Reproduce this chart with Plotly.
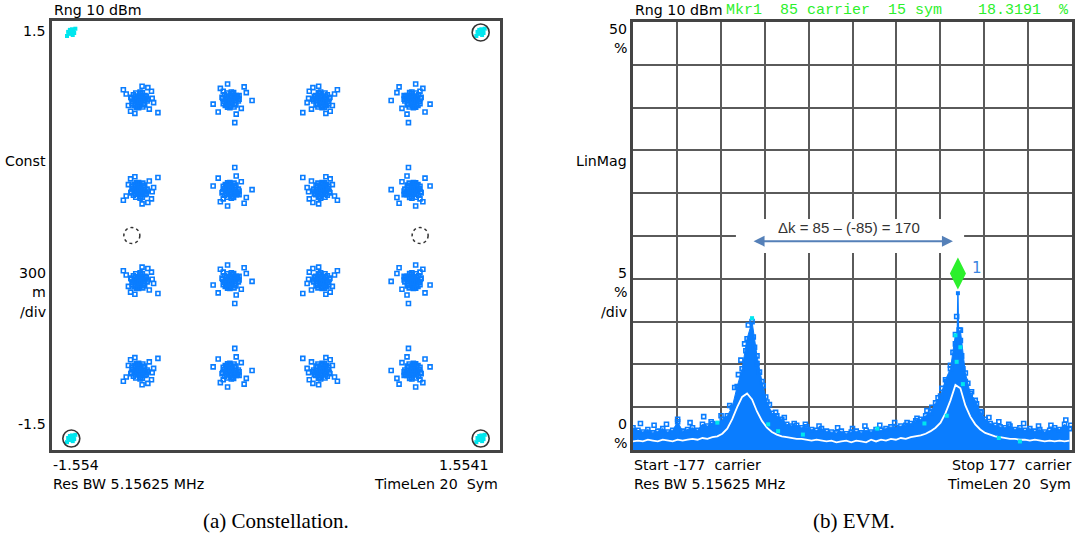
import plotly.graph_objects as go

# ---------------- data: constellation ----------------
QAM_LEVELS = [-0.949, -0.316, 0.316, 0.949]
PILOT_I = [-1.42, 1.42, -1.42, 1.42]
PILOT_Q = [1.42, 1.42, -1.42, -1.42]
REF_I = [-1.0, 1.0]
REF_Q = [0.0, 0.0]
CORE_DI = [0.000, 0.020, -0.018, 0.010, -0.012, 0.035, -0.034, 0.004, 0.002, 0.026, -0.027, 0.030,
           -0.028, 0.045, -0.045, 0.012, -0.010, 0.040, -0.040, 0.038, -0.036, 0.055, -0.054, 0.006,
           -0.004, 0.050, -0.050, 0.022, -0.024, 0.025, -0.020, 0.015, -0.008, 0.000, 0.060, -0.058]
CORE_DQ = [0.000, 0.010, 0.012, -0.022, -0.016, -0.005, 0.002, 0.033, -0.038, 0.028, 0.027, -0.030,
           -0.031, 0.012, -0.010, 0.046, -0.047, 0.030, 0.035, -0.036, -0.040, -0.008, 0.010, 0.055,
           -0.055, 0.025, -0.028, 0.050, 0.048, -0.050, -0.052, 0.000, 0.020, -0.010, 0.005, 0.018]
OUT_A_DI = [0.085, 0.070, -0.090, -0.060, 0.020, 0.100, -0.030, 0.130, -0.110, 0.060, -0.075, 0.090]
OUT_A_DQ = [0.060, -0.065, 0.040, -0.080, 0.095, -0.020, -0.095, -0.090, 0.070, 0.085, -0.040, 0.010]
OUT_B_DI = [-0.070, 0.110, 0.040, -0.120, 0.075, -0.020, 0.095, -0.085, 0.150, -0.050, 0.030, 0.060]
OUT_B_DQ = [0.080, 0.050, -0.100, -0.030, -0.060, 0.110, 0.090, -0.085, -0.005, 0.060, -0.160, 0.030]
PILOT_DI = [0.000, 0.015, -0.015, 0.010, -0.010, 0.020, -0.022, 0.005, -0.030, 0.028]
PILOT_DQ = [0.000, 0.012, -0.010, -0.018, 0.018, -0.004, 0.004, 0.022, -0.025, 0.026]

# ---------------- data: EVM ----------------
CARRIERS = list(range(-177, 176, 4))
EVM_ENVELOPE = [2.6, 2.3, 2.1, 2.4, 2.0, 2.2, 2.5, 2.1, 2.3, 3.3,
                2.2, 2.4, 2.6, 2.3, 3.0, 2.8, 3.1, 3.0, 3.6, 4.0,
                5.0, 7.4, 9.5, 13.0, 15.0, 11.0, 8.0, 5.6, 4.3, 4.0,
                3.6, 3.0, 2.8, 2.9, 2.6, 2.7, 2.4, 2.3, 2.5, 2.2,
                2.1, 2.0, 2.2, 1.9, 2.1, 2.2, 2.0, 2.3, 2.1, 2.4,
                2.3, 2.5, 2.7, 2.6, 2.8, 2.9, 3.1, 3.4, 3.6, 4.0,
                4.4, 5.5, 6.3, 8.2, 9.5, 13.5, 14.0, 9.0, 6.6, 5.8,
                4.5, 3.6, 3.1, 2.9, 2.7, 2.6, 2.8, 2.4, 2.6, 2.3,
                2.5, 2.2, 2.4, 2.1, 2.3, 2.6, 2.4, 3.0, 2.5]
EVM_MEAN = [1.0, 1.1, 1.0, 1.2, 1.1, 1.0, 1.2, 1.1, 1.0, 1.2,
            1.1, 1.2, 1.3, 1.2, 1.4, 1.3, 1.5, 1.6, 1.9, 2.5,
            3.6, 5.0, 6.2, 6.6, 5.9, 4.5, 3.4, 2.6, 2.1, 1.8,
            1.6, 1.5, 1.4, 1.3, 1.3, 1.2, 1.1, 1.2, 1.1, 1.0,
            1.1, 0.9, 1.0, 1.1, 0.9, 1.1, 1.0, 0.9, 1.2, 1.0,
            1.2, 1.1, 1.3, 1.2, 1.4, 1.3, 1.5, 1.6, 1.7, 1.9,
            2.2, 2.6, 3.2, 4.3, 5.8, 7.6, 7.2, 5.2, 3.9, 3.0,
            2.4, 2.0, 1.8, 1.6, 1.5, 1.4, 1.3, 1.3, 1.2, 1.2,
            1.1, 1.2, 1.1, 1.0, 1.1, 1.0, 1.1, 1.0, 1.1]
OUTLIER_CARRIER = [-171, -160, -150, -141, -131, -120, -114, -106, -99, -95, -92, -90, -87, -86, -84,
                   -83, -80, -79, -77, -75, -72, -70, -67, -62, -55, -47, -38, -27, -12, 0, 10, 22,
                   34, 44, 52, 60, 64, 69, 72, 76, 79, 81, 83, 84, 86, 87, 88, 89, 91, 93, 96, 100,
                   104, 110, 118, 126, 138, 150, 160, 172, 176]
OUTLIER_EVM = [3.1, 2.9, 3.0, 3.6, 3.2, 3.9, 3.3, 4.0, 5.2, 7.3, 8.8, 10.5, 12.4, 11.6, 14.6,
               12.9, 13.2, 12.0, 10.1, 9.1, 7.5, 6.2, 5.3, 4.4, 3.8, 3.1, 3.0, 2.8, 2.6, 2.5, 2.8, 2.9,
               3.2, 3.2, 3.7, 4.6, 5.0, 6.1, 7.2, 8.0, 9.9, 11.4, 12.4, 15.6, 14.0, 12.8, 11.0, 9.5,
               8.0, 7.8, 6.8, 5.4, 4.4, 3.8, 3.3, 3.0, 3.1, 2.8, 2.9, 3.5, 2.9]
STEM_CARRIER = [84.4, 85, 85.6]
STEM_EVM = [11.5, 18.3191, 12.0]
CYAN_CARRIER = [-81, -109, -68, 87, 83, 84, 76, 89, 20, -40, 118, 135, -60, 58]
CYAN_EVM = [15.4, 3.2, 3.0, 12.0, 13.4, 10.3, 4.0, 7.7, 2.5, 1.8, 1.4, 1.0, 2.2, 3.1]
MKR_CARRIER = [85]
MKR_EVM = [18.3191]
DELTA_K = [-85, 85]

# ---------------- style ----------------
W, H = 1091, 545
BLUE = '#0a7dff'
CYAN = '#00e6ee'
GREEN = '#2cf02c'
FRAME = '#444444'
GRID = '#5a5a5a'
UI_FONT = 'DejaVu Sans'
UI_SIZE = 14.2
DIAMOND_LIFT = 2.3


def px(xp):
    return xp / W


def py(yp):
    return 1 - yp / H


fig = go.Figure()

# constellation clusters
ci, cq = [], []
k = 0
for q in reversed(QAM_LEVELS):
    for i in QAM_LEVELS:
        sx = -1 if (k // 2) % 2 else 1
        sy = -1 if (k // 4) % 2 else 1
        odi, odq = (OUT_A_DI, OUT_A_DQ) if k % 2 == 0 else (OUT_B_DI, OUT_B_DQ)
        for a, b in zip(CORE_DI + odi, CORE_DQ + odq):
            ci.append(i + sx * a)
            cq.append(q + sy * b)
        k += 1
fig.add_trace(go.Scatter(x=ci, y=cq, mode='markers', xaxis='x', yaxis='y',
                         marker=dict(symbol='square-open', size=4, color=BLUE, line=dict(width=1.6))))
# pilots
pi, pq = [], []
for I, Q in zip(PILOT_I, PILOT_Q):
    for a, b in zip(PILOT_DI, PILOT_DQ):
        pi.append(I + a)
        pq.append(Q + b)
fig.add_trace(go.Scatter(x=pi, y=pq, mode='markers', xaxis='x', yaxis='y',
                         marker=dict(symbol='square', size=4, color=CYAN)))
fig.add_trace(go.Scatter(x=PILOT_I[1:], y=PILOT_Q[1:], mode='markers', xaxis='x', yaxis='y',
                         marker=dict(symbol='circle-open', size=17, color='#333333', line=dict(width=1.6))))
shapes = []
for I, Q in zip(REF_I, REF_Q):
    shapes.append(dict(type='circle', xref='x', yref='y', xsizemode='pixel', ysizemode='pixel',
                       xanchor=I, yanchor=Q, x0=-8, x1=8, y0=-8, y1=8,
                       line=dict(color='#333333', width=1.5, dash='dot')))

# EVM
fig.add_trace(go.Scatter(x=CARRIERS, y=EVM_ENVELOPE, mode='lines+markers', fill='tozeroy',
                         fillcolor=BLUE, xaxis='x2', yaxis='y2',
                         line=dict(color=BLUE, width=1),
                         marker=dict(symbol='square-open', size=4, color=BLUE, line=dict(width=1.6))))
fig.add_trace(go.Scatter(x=OUTLIER_CARRIER, y=OUTLIER_EVM, mode='markers', xaxis='x2', yaxis='y2',
                         marker=dict(symbol='square-open', size=4, color=BLUE, line=dict(width=1.6))))
fig.add_trace(go.Scatter(x=STEM_CARRIER, y=STEM_EVM, mode='lines+markers', xaxis='x2', yaxis='y2',
                         line=dict(color=BLUE, width=1.5),
                         marker=dict(symbol='square', size=4, color=BLUE)))
fig.add_trace(go.Scatter(x=CARRIERS, y=EVM_MEAN, mode='lines', xaxis='x2', yaxis='y2',
                         line=dict(color='white', width=1.8)))
fig.add_trace(go.Scatter(x=CYAN_CARRIER, y=CYAN_EVM, mode='markers', xaxis='x2', yaxis='y2',
                         marker=dict(symbol='square', size=4, color=CYAN)))
fig.add_trace(go.Scatter(x=MKR_CARRIER, y=[v + DIAMOND_LIFT for v in MKR_EVM], mode='markers',
                         xaxis='x2', yaxis='y2', cliponaxis=False,
                         marker=dict(symbol='diamond-tall', size=23, color=GREEN)))

# white box behind delta-k arrow
shapes.append(dict(type='rect', xref='x2', yref='y2', x0=DELTA_K[0] - 9, x1=DELTA_K[1] + 5,
                   y0=23.0, y1=27.0, fillcolor='white', line=dict(width=0), layer='above'))

ann = []


def txt(x, y, s, anchor='left', size=UI_SIZE, color='black', family=UI_FONT):
    ann.append(dict(x=px(x), y=py(y), xref='paper', yref='paper', text=s, showarrow=False,
                    xanchor=anchor, yanchor='middle', font=dict(family=family, size=size, color=color)))


# left panel texts
txt(52, 10, 'Rng 10 dBm')
txt(48, 31, '1.5', 'right')
txt(48, 161, 'Const', 'right')
txt(48, 273, '300', 'right')
txt(48, 292, 'm', 'right')
txt(48, 312, '/div', 'right')
txt(48, 424, '-1.5', 'right')
txt(51, 465, '-1.554')
txt(491, 465, '1.5541', 'right')
txt(51, 484, 'Res BW 5.15625 MHz')
txt(500, 484, 'TimeLen 20\u00a0 Sym', 'right')
# right panel texts
txt(633, 10, 'Rng 10 dBm')
txt(724, 10, 'Mkr1\u00a0\u00a085\u00a0carrier\u00a0\u00a015\u00a0sym\u00a0\u00a0\u00a0\u00a018.3191\u00a0\u00a0%',
    size=15, color=GREEN, family='Liberation Mono')
txt(629, 29, '50', 'right')
txt(629, 48, '%', 'right')
txt(629, 161, 'LinMag', 'right')
txt(629, 273, '5', 'right')
txt(629, 292, '%', 'right')
txt(629, 312, '/div', 'right')
txt(629, 424, '0', 'right')
txt(629, 443, '%', 'right')
txt(632, 465, 'Start -177\u00a0 carrier')
txt(1073, 465, 'Stop 177\u00a0 carrier', 'right')
txt(632, 484, 'Res BW 5.15625 MHz')
txt(1073, 484, 'TimeLen 20\u00a0 Sym', 'right')
# captions
txt(276, 521, '(a) Constellation.', 'center', size=21, family='Liberation Serif')
txt(854, 521, '(b) EVM.', 'center', size=21, family='Liberation Serif')

# delta-k arrow and label
ann.append(dict(x=DELTA_K[1] - 4, y=24.4, ax=DELTA_K[0] + 4, ay=24.4, xref='x2', yref='y2',
                axref='x2', ayref='y2', text='', showarrow=True, arrowhead=2, startarrowhead=2,
                arrowside='end+start', arrowsize=1.1, arrowwidth=2, arrowcolor='#5580b8'))
ann.append(dict(x=(DELTA_K[0] + DELTA_K[1]) / 2 - 3, y=26.0, xref='x2', yref='y2', showarrow=False,
                text='\u0394k = 85 \u2013 (-85) = 170', font=dict(family='Liberation Sans', size=15, color='#333333')))
ann.append(dict(x=MKR_CARRIER[0], y=MKR_EVM[0] + DIAMOND_LIFT, xref='x2', yref='y2', showarrow=False,
                text='1', xshift=19, yshift=6, font=dict(family=UI_FONT, size=15, color='#3a86e0')))

axis_common = dict(showticklabels=False, ticks='', zeroline=False, showline=True, mirror=True,
                   linecolor=FRAME, linewidth=3)
fig.update_layout(
    width=W, height=H, margin=dict(l=0, r=0, t=0, b=0), showlegend=False,
    paper_bgcolor='white', plot_bgcolor='white',
    xaxis=dict(domain=[px(52), px(500)], range=[-1.554, 1.5541], showgrid=False, **axis_common),
    yaxis=dict(domain=[py(450), py(21)], range=[-1.5, 1.5], showgrid=False, **axis_common),
    xaxis2=dict(domain=[px(633), px(1072)], range=[-177, 177], tick0=-177, dtick=35.4, showgrid=True,
                gridcolor=GRID, gridwidth=2, anchor='y2', **axis_common),
    yaxis2=dict(domain=[py(450), py(22)], range=[0, 50], dtick=5, showgrid=True, gridcolor=GRID,
                gridwidth=2, anchor='x2', **axis_common),
    shapes=shapes, annotations=ann,
)
fig.write_html('out.html', config={'displayModeBar': False},
               post_script="document.body.style.margin='0';document.body.style.overflow='hidden';")
